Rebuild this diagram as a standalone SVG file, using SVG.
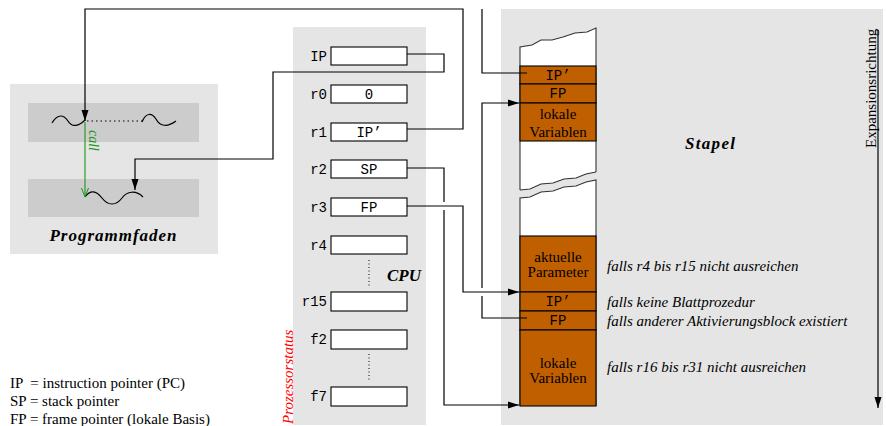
<svg xmlns="http://www.w3.org/2000/svg" width="886" height="426" viewBox="0 0 886 426">
<style>
.mono{font-family:"Liberation Mono","Courier New",monospace;font-size:14px;fill:#000}
.serif{font-family:"Liberation Serif","Times New Roman",serif;font-size:15px;fill:#000}
.it{font-family:"Liberation Serif","Times New Roman",serif;font-size:15px;font-style:italic;fill:#000}
.title{font-family:"Liberation Serif","Times New Roman",serif;font-size:17px;font-style:italic;font-weight:bold;fill:#000}
.reg{fill:#fff;stroke:#000;stroke-width:1.1}
.cell{fill:#c05f00;stroke:#000;stroke-width:1.1}
.wire{fill:none;stroke:#000;stroke-width:1.2}
.bg{fill:#e5e5e5}
</style>
<defs>
<marker id="ah" markerWidth="11" markerHeight="8" refX="11" refY="4" orient="auto" markerUnits="userSpaceOnUse">
<path d="M0,0.5 L11,4 L0,7.5 z" fill="#000"/>
</marker>
<marker id="gh" markerWidth="10" markerHeight="8" refX="9" refY="4" orient="auto" markerUnits="userSpaceOnUse">
<path d="M0,0.5 L9,4 L0,7.5" fill="none" stroke="#1a961a" stroke-width="1"/>
</marker>
</defs>

<g id="programmfaden">
<rect class="bg" x="10" y="84" width="208" height="170"/>
<rect x="28" y="103" width="171" height="39" fill="#cccccc"/>
<rect x="28" y="179" width="171" height="38" fill="#cccccc"/>
<path d="M52,123 C58,113 64,115 68,121 C72,128 79,126 85,120" fill="none" stroke="#000" stroke-width="1.2"/>
<line x1="87" y1="121" x2="142" y2="121" stroke="#000" stroke-width="1.2" stroke-dasharray="1.5,3"/>
<path d="M142,122 C146,112 152,113 156,119 C160,127 168,127 176,121" fill="none" stroke="#000" stroke-width="1.2"/>
<path d="M85,197 C90,190 96,190 102,198 C108,206 116,206 122,198 C127,191 136,190 143,197" fill="none" stroke="#000" stroke-width="1.2"/>
<line x1="85" y1="122" x2="85" y2="197" stroke="#1a961a" stroke-width="1.1" marker-end="url(#gh)"/>
<text transform="translate(89,130) rotate(90)" font-family="Liberation Serif, Times New Roman, serif" font-size="14" font-style="italic" fill="#1a961a">call</text>
<text class="title" x="113" y="241" text-anchor="middle" textLength="127" lengthAdjust="spacing">Programmfaden</text>
</g>

<g id="cpu">
<rect class="bg" x="293" y="27" width="133" height="398"/>
<g id="reg-ip"><rect class="reg" x="331" y="47" width="76" height="18"/><text class="mono" x="327" y="61" text-anchor="end">IP</text></g>
<g id="reg-r0"><rect class="reg" x="331" y="85" width="76" height="18"/><text class="mono" x="327" y="99" text-anchor="end">r0</text><text class="mono" x="369" y="99" text-anchor="middle">0</text></g>
<g id="reg-r1"><rect class="reg" x="331" y="123" width="76" height="18"/><text class="mono" x="327" y="137" text-anchor="end">r1</text><text class="mono" x="369" y="137" text-anchor="middle">IP’</text></g>
<g id="reg-r2"><rect class="reg" x="331" y="160" width="76" height="18"/><text class="mono" x="327" y="174" text-anchor="end">r2</text><text class="mono" x="369" y="174" text-anchor="middle">SP</text></g>
<g id="reg-r3"><rect class="reg" x="331" y="198" width="76" height="18"/><text class="mono" x="327" y="212" text-anchor="end">r3</text><text class="mono" x="369" y="212" text-anchor="middle">FP</text></g>
<g id="reg-r4"><rect class="reg" x="331" y="236" width="76" height="18"/><text class="mono" x="327" y="250" text-anchor="end">r4</text></g>
<g id="reg-r15"><rect class="reg" x="331" y="292" width="76" height="19"/><text class="mono" x="327" y="306" text-anchor="end">r15</text></g>
<g id="reg-f2"><rect class="reg" x="331" y="330" width="76" height="19"/><text class="mono" x="327" y="344" text-anchor="end">f2</text></g>
<g id="reg-f7"><rect class="reg" x="331" y="387" width="76" height="19"/><text class="mono" x="327" y="401" text-anchor="end">f7</text></g>
<line x1="369" y1="260" x2="369" y2="288" stroke="#000" stroke-width="1" stroke-dasharray="1,2.5"/>
<line x1="369" y1="354" x2="369" y2="382" stroke="#000" stroke-width="1" stroke-dasharray="1,2.5"/>
<text class="title" x="404" y="281" text-anchor="middle">CPU</text>
<text transform="translate(293,424) rotate(-90)" font-family="Liberation Serif, Times New Roman, serif" font-size="15" font-style="italic" fill="#ff0000">Prozessorstatus</text>
</g>

<g id="stapel">
<rect class="bg" x="501" y="9" width="382" height="416"/>
<path d="M520,47 L532,45 L541,40 L552,40 L563,37 L575,33 L587,32 L596,28 L596,172 L586,174 L576,178 L564,179 L553,183 L541,184 L530,189 L520,190 Z" fill="#fff"/>
<path d="M520,190 L520,47 L532,45 L541,40 L552,40 L563,37 L575,33 L587,32 L596,28 L596,172" fill="none" stroke="#333" stroke-width="1.1"/>
<path d="M520,190 L530,189 L541,184 L553,183 L564,179 L576,178 L586,174 L596,172" fill="none" stroke="#333" stroke-width="1.1"/>
<path d="M520,198 L530,197 L541,192 L553,191 L564,187 L576,186 L586,182 L596,180 L596,406 L520,406 Z" fill="#fff"/>
<path d="M520,406 L520,198 L530,197 L541,192 L553,191 L564,187 L576,186 L586,182 L596,180 L596,406" fill="none" stroke="#333" stroke-width="1.1"/>
<g id="cell-ip1"><rect class="cell" x="520" y="66" width="76" height="18"/><text class="mono" x="558" y="80" text-anchor="middle">IP’</text></g>
<g id="cell-fp1"><rect class="cell" x="520" y="84" width="76" height="19"/><text class="mono" x="558" y="98" text-anchor="middle">FP</text></g>
<g id="cell-lv1"><rect class="cell" x="520" y="103" width="76" height="38"/><text class="serif" x="558" y="119" text-anchor="middle">lokale</text><text class="serif" x="558" y="137" text-anchor="middle">Variablen</text></g>
<g id="cell-ap"><rect class="cell" x="520" y="236" width="76" height="56"/><text class="serif" x="558" y="262" text-anchor="middle">aktuelle</text><text class="serif" x="558" y="277" text-anchor="middle">Parameter</text></g>
<g id="cell-ip2"><rect class="cell" x="520" y="292" width="76" height="19"/><text class="mono" x="558" y="306" text-anchor="middle">IP’</text></g>
<g id="cell-fp2"><rect class="cell" x="520" y="311" width="76" height="19"/><text class="mono" x="558" y="325" text-anchor="middle">FP</text></g>
<g id="cell-lv2"><rect class="cell" x="520" y="330" width="76" height="76"/><text class="serif" x="558" y="368" text-anchor="middle">lokale</text><text class="serif" x="558" y="383" text-anchor="middle">Variablen</text></g>
<text class="title" x="710" y="149" text-anchor="middle" textLength="50" lengthAdjust="spacing">Stapel</text>
<text class="it" x="607" y="271">falls r4 bis r15 nicht ausreichen</text>
<text class="it" x="607" y="307">falls keine Blattprozedur</text>
<text class="it" x="607" y="326">falls anderer Aktivierungsblock existiert</text>
<text class="it" x="607" y="372">falls r16 bis r31 nicht ausreichen</text>
<line x1="878" y1="30" x2="878" y2="408" stroke="#000" stroke-width="1.2" marker-end="url(#ah)"/>
<text transform="translate(876,148) rotate(-90)" font-family="Liberation Serif, Times New Roman, serif" font-size="15" fill="#000">Expansionsrichtung</text>
</g>

<g id="connectors">
<path class="wire" d="M407,129 H463 V9 H85 V121" marker-end="url(#ah)"/>
<path class="wire" d="M407,54 H444 V72 H273 V159 H135 V190" marker-end="url(#ah)"/>
<path class="wire" d="M482,9 V73 H527"/>
<path class="wire" d="M527,318 H482 V296 M482,288 V103 H519" marker-end="url(#ah)"/>
<path class="wire" d="M407,168 H444 V202 M444,210 V405 H519" marker-end="url(#ah)"/>
<path class="wire" d="M407,206 H463 V292 H519" marker-end="url(#ah)"/>
</g>

<g id="legende">
<text class="serif" x="10" y="388" xml:space="preserve">IP  = instruction pointer (PC)</text>
<text class="serif" x="10" y="406">SP = stack pointer</text>
<text class="serif" x="10" y="424">FP = frame pointer (lokale Basis)</text>
</g>
</svg>
